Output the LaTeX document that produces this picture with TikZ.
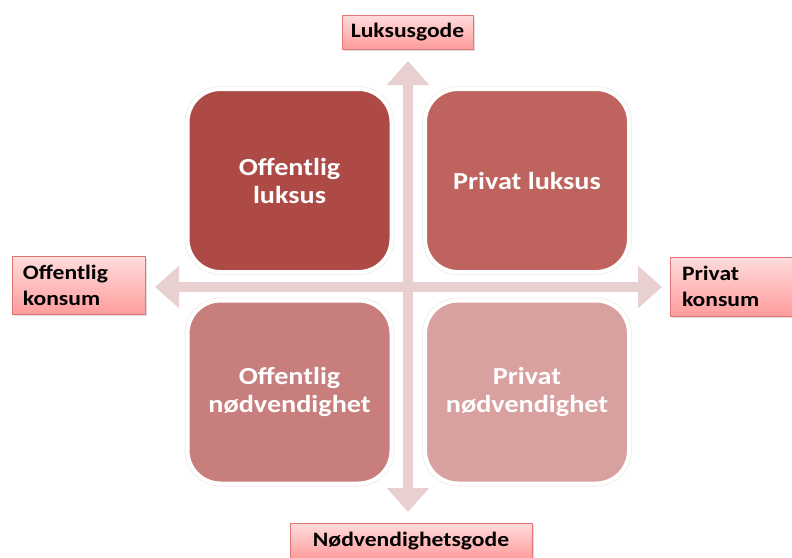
\documentclass[tikz,border=0pt]{standalone}
\usepackage{fontspec}
\setmainfont{Carlito}[FakeStretch=1.15]
\usetikzlibrary{arrows.meta,shadows}
\definecolor{tlc}{HTML}{AE4A46}
\definecolor{trc}{HTML}{BF635F}
\definecolor{blc}{HTML}{C87E7D}
\definecolor{brc}{HTML}{D8A1A0}
\definecolor{axc}{HTML}{E8D0D0}
\definecolor{labtop}{HTML}{FFDCDC}
\definecolor{labbot}{HTML}{FF9C9C}
\definecolor{labdraw}{HTML}{E27474}
\tikzset{
  quad/.style={rectangle, rounded corners=33pt, minimum width=204pt, minimum height=183pt,
    draw=white, line width=4pt, preaction={draw=black!6, line width=6pt},
    text=white, align=center, font=\bfseries\fontsize{24.5}{28}\selectfont, inner sep=0pt},
  axlabel/.style={rectangle, top color=labtop, bottom color=labbot, draw=labdraw, line width=0.8pt,
    drop shadow={opacity=0.25, shadow xshift=1.5pt, shadow yshift=-1.5pt},
    font=\bfseries\fontsize{20.5}{26}\selectfont, text=black, inner sep=0pt},
  axisarrow/.style={draw=axc, line width=10pt, {Triangle[length=24pt,width=41pt]}-{Triangle[length=24pt,width=41pt]}}
}
\begin{document}
\begin{tikzpicture}[x=1pt,y=-1pt]
\useasboundingbox (0,0) rectangle (792,557);
% axes
\coordinate (tipT) at (408,61);
\coordinate (tipB) at (408,512);
\coordinate (tipL) at (155,287);
\coordinate (tipR) at (662,287);
\draw[axisarrow] (tipT) -- (tipB);
\draw[axisarrow] (tipL) -- (tipR);
% quadrants
\node[quad, fill=tlc] (tl) at (289.5,180.5) {Offentlig\\luksus};
\node[quad, fill=trc] (tr) at (527,180.5) {Privat luksus};
\node[quad, fill=blc] (bl) at (289.5,392) {Offentlig\\nødvendighet};
\node[quad, fill=brc] (br) at (527,392) {Privat\\nødvendighet};
% axis labels
\node[axlabel, minimum width=131pt, minimum height=34pt] (lux) at (407.5,32) {Luksusgode};
\node[axlabel, minimum width=133pt, minimum height=58pt, text width=111pt, align=left] (off) at (78.5,285.5) {Offentlig\\konsum};
\node[axlabel, minimum width=124pt, minimum height=59pt, text width=100pt, align=left] (priv) at (732,286.5) {Privat\\konsum};
\node[axlabel, minimum width=242pt, minimum height=36pt] (nod) at (411,541) {Nødvendighetsgode};
\end{tikzpicture}
\end{document}
